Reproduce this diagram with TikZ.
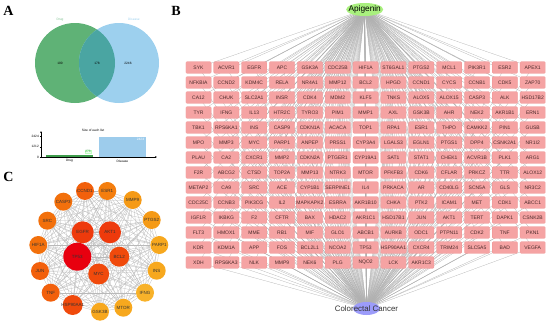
\documentclass[tikz,border=0pt]{standalone}
\usepackage{fontspec}
\setmainfont{Liberation Sans}
\newfontfamily\panelfont{Liberation Serif}
\usetikzlibrary{backgrounds,shapes.geometric,arrows.meta}
\definecolor{vgreen}{HTML}{5FB276}
\definecolor{vblue}{HTML}{9DD0EE}
\definecolor{vteal}{HTML}{4AA5A2}
\definecolor{bgreen}{HTML}{3E9C4C}
\definecolor{bblue}{HTML}{9DCCEC}
\definecolor{genefill}{HTML}{F5A3A3}
\definecolor{geneedge}{HTML}{EE9090}
\definecolor{genetext}{HTML}{4A2A2A}
\definecolor{edgegray}{HTML}{B0B0B0}
\definecolor{apifill}{HTML}{A9F07E}
\definecolor{crcfill}{HTML}{9C9CFA}
\definecolor{dA}{HTML}{E8000F}
\definecolor{dB}{HTML}{EE3A0C}
\definecolor{dC}{HTML}{F04A0C}
\definecolor{dD}{HTML}{F2600C}
\definecolor{dE}{HTML}{F2700C}
\definecolor{dF}{HTML}{F47E0E}
\definecolor{dG}{HTML}{F59A16}
\definecolor{dH}{HTML}{F7A81E}
\definecolor{dI}{HTML}{F8B22A}
\tikzset{
  gene/.style={rectangle, rounded corners=1pt, fill=genefill, draw=geneedge, line width=0.2pt,
    minimum width=25.3pt, minimum height=11.6pt, inner sep=0.2pt,
    font=\fontsize{5}{5.5}\selectfont, text=genetext},
  gedge/.style={draw=edgegray, line width=0.25pt},
  cedge/.style={draw=gray!55, line width=0.25pt},
  ppi/.style={circle, inner sep=0pt},
  ppilab/.style={font=\fontsize{4.5}{5}\selectfont, text=black!80},
  panel/.style={font=\panelfont\bfseries\fontsize{14}{14}\selectfont},
  tiny/.style={font=\fontsize{3.2}{3.5}\selectfont},
}
\begin{document}
\begin{tikzpicture}[x=1pt,y=-1pt]
\useasboundingbox (0,0) rectangle (550,324);
% panel labels
\node[panel] (pa) at (8.5,11) {A};
\node[panel] (pb) at (176,11) {B};
\node[panel] (pc) at (8.5,177) {C};
% ---------- Panel A: Venn ----------
\fill[vgreen] (75,63) circle[radius=40pt];
\fill[vblue] (119,63) circle[radius=40pt];
\begin{scope}
  \clip (75,63) circle[radius=40pt];
  \fill[vteal] (119,63) circle[radius=40pt];
\end{scope}
\node[tiny, text=vgreen!80] (vdrug) at (60,19.5) {Drug};
\node[tiny, text=vblue] (vdis) at (134,19.5) {Disease};
\node[tiny] (vn1) at (60,63) {100};
\node[tiny] (vn2) at (97,63) {178};
\node[tiny] (vn3) at (128,63) {2246};
% ---------- bar chart ----------
\node[tiny] (btitle) at (93,130) {Size of each list};
\coordinate (o) at (41,157);
\coordinate (ytop) at (41,131);
\coordinate (xend) at (157,157);
\fill[bgreen] (46,154.7) rectangle (93,157);
\fill[bblue] (99,136.5) rectangle (146,157);
\draw[line width=0.3pt,-{Stealth[length=2pt,width=1.6pt]}] (o) -- (ytop);
\draw[line width=0.3pt,-{Stealth[length=2pt,width=1.6pt]}] (o) -- (xend);
\foreach \yy/\t in {136.5/2424,146.7/1212,157/0}{
  \draw[line width=0.3pt] (39.8,\yy) -- (41,\yy);
  \node[tiny, anchor=east, inner sep=0.5pt] at (39.5,\yy) {\t};
}
\node[tiny, text=bgreen, fill=green!8, draw=green!25, line width=0.2pt, inner sep=0.6pt] (bl1) at (88,151.5) {278};
\node[tiny, text=white] (bl2) at (140.5,139.5) {2424};
\node[tiny] (bx1) at (69.5,161) {Drug};
\node[tiny] (bx2) at (122.5,161) {Disease};
% ---------- Panel B ----------
\node[ellipse, fill=apifill, minimum width=37pt, minimum height=13pt, inner sep=0pt,
  label={[font=\fontsize{8.3}{9}\selectfont, text=black]center:Apigenin}] (api) at (364.7,9.5) {};
\node[ellipse, fill=crcfill, minimum width=27pt, minimum height=13pt, inner sep=0pt,
  label={[font=\fontsize{7.9}{9}\selectfont, text=black!80]center:Colorectal Cancer}] (crc) at (366.5,308.5) {};
\foreach \g [count=\k from 0] in {SYK,ACVR1,EGFR,APC,GSK3A,CDC25B,HIF1A,ST6GAL1,PTGS2,MCL1,PIK3R1,ESR2,APEX1,
NFKBIA,CCND2,KDM4C,RELA,NR4A1,MMP12,BCL2,HPGD,CCND1,CYCS,CCNB1,CDK5,ZAP70,
CA12,CHUK,SLC2A1,INSR,CDK4,MDM2,KLF5,TNKS,ALOX5,ALOX15,CASP3,ALK,HSD17B2,
TYR,IFNG,IL13,HTR2C,TYRO3,PIM1,MMP1,AXL,GSK3B,AHR,NEK2,AKR1B1,ERN1,
TBK1,RPS6KA1,INS,CASP9,CDKN1A,ACACA,TOP1,RPA1,ESR1,THPO,CAMKK2,PIN1,GUSB,
MPO,MMP3,MYC,PARP1,ANPEP,PRSS1,CYP3A4,LGALS3,EGLN1,PTGS1,DPP4,CSNK2A1,NR1I2,
PLAU,CA2,CXCR1,MMP2,CDKN2A,PTGER1,CYP19A1,SAT1,STAT1,CHEK1,ACVR1B,PLK1,ARG1,
F2R,ABCG2,CTSD,TOP2A,MMP13,NTRK3,MTOR,PFKFB3,CDK6,CFLAR,PRKCZ,TTR,ALOX12,
METAP2,CA9,SRC,ACE,CYP1B1,SERPINE1,IL4,PRKACA,AR,CD40LG,SCN5A,GLS,NR3C2,
CDC25C,CCNB3,PIK3CG,IL2,MAPKAPK2,ESRRA,AKR1B10,CHKA,PTK2,ICAM1,MET,CDK1,ABCC1,
IGF1R,IKBKG,F2,CFTR,BAX,HDAC2,AKR1C1,HSD17B1,JUN,AKT1,TERT,DAPK1,CSNK2B,
FLT3,HMOX1,MME,RB1,MIF,GLO1,ABCB1,AURKB,ODC1,PTPN11,CDK2,TNF,PKN1,
KDR,KDM1A,APP,FOS,BCL2L1,NCOA2,TP53,HSP90AA1,CXCR4,TRIM24,SLC5A5,BAD,VEGFA,
XDH,RPS6KA3,NLK,MMP9,NEK6,PLG,NQO2,LCK,AKR1C3}{
  \pgfmathtruncatemacro\cc{mod(\k,13)}
  \pgfmathtruncatemacro\rr{div(\k,13)}
  \node[gene] (g\k) at ({198.5+27.85*\cc},{67.5+15*\rr}) {\g};
}
\begin{scope}[on background layer]
  \foreach \k in {0,...,177}{
    \draw[gedge] (api.center) -- (g\k.center);
    \draw[gedge] (g\k.center) -- (crc.center);
  }
\end{scope}
% ---------- Panel C ----------
\foreach \n/\x/\y/\s/\c in {
  TP53/77.3/256.7/28/dA, EGFR/82.7/232.3/22/dB, AKT1/110/232.3/22/dB,
  MYC/98.7/274/21/dC, BCL2/119.3/256.7/20/dC, HSP90AA1/72.7/305/20/dC,
  TNF/50.7/292.7/18/dD, JUN/40/271/18/dD, CCND1/85/191/18/dD,
  CASP3/63.3/201.7/18/dE, SRC/47.3/220.7/18/dE, HIF1A/38.3/245/18/dE,
  ESR1/107.3/191/18/dF, MMP9/132.7/200/18/dG, PTGS2/151.7/220/18/dG,
  PARP1/159.3/245/18/dH, INS/156.7/270.7/18/dH, IFNG/145/292.7/18/dI,
  MTOR/123.3/307.7/18/dH, GSK3B/100/311.7/18/dH}{
  \node[ppi, minimum size=\s pt, fill=\c, label={[ppilab]center:\n}] (c-\n) at (\x,\y) {};
}
\def\clist{TP53,EGFR,AKT1,MYC,BCL2,HSP90AA1,TNF,JUN,CCND1,CASP3,SRC,HIF1A,ESR1,MMP9,PTGS2,PARP1,INS,IFNG,MTOR,GSK3B}
\begin{scope}[on background layer]
  \foreach \a [count=\i] in \clist {
    \foreach \b [count=\j] in \clist {
      \ifnum\j>\i
        \draw[cedge] (c-\a) -- (c-\b);
      \fi
    }
  }
\end{scope}
\end{tikzpicture}
\end{document}
